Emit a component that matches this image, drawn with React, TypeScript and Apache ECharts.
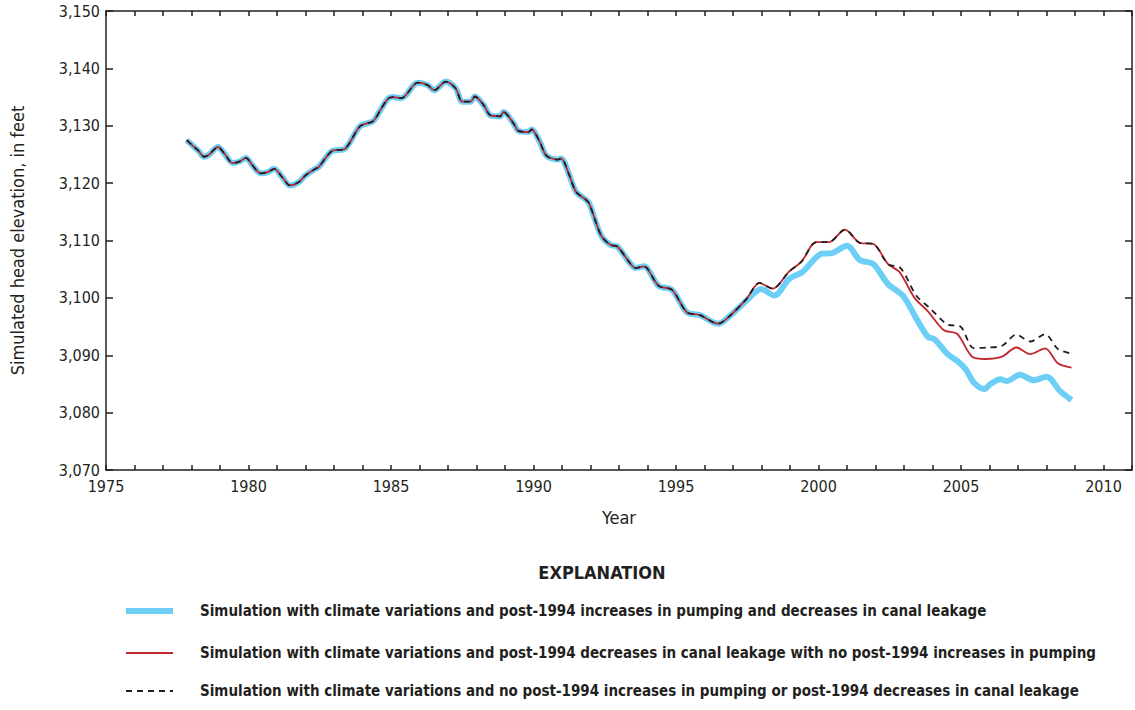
import React, { useEffect, useRef } from "react";
import * as echarts from "echarts";

const commonYears = [1977.83, 1978.05, 1978.23, 1978.44, 1978.6, 1978.93, 1979.16, 1979.45, 1979.7, 1979.91, 1980.14, 1980.43, 1980.67, 1980.9, 1981.19, 1981.45, 1981.77, 1982.0, 1982.35, 1982.46, 1982.93, 1983.39, 1983.91, 1984.37, 1984.6, 1984.89, 1985.07, 1985.36, 1985.94, 1986.28, 1986.52, 1986.92, 1987.27, 1987.5, 1987.79, 1987.94, 1988.25, 1988.49, 1988.83, 1988.95, 1989.3, 1989.47, 1989.82, 1989.93, 1990.22, 1990.45, 1990.86, 1990.97, 1991.26, 1991.49, 1991.84, 1991.96, 1992.37, 1992.71, 1992.94, 1993.41, 1993.58, 1993.87, 1994.39, 1994.86, 1995.38, 1995.84, 1996.48, 1996.83];
const commonHeads = [3127.5, 3126.5, 3125.7, 3124.6, 3124.9, 3126.3, 3125.1, 3123.5, 3123.8, 3124.4, 3123.1, 3121.7, 3121.9, 3122.5, 3121.0, 3119.6, 3120.2, 3121.35, 3122.5, 3122.8, 3125.6, 3126.0, 3129.9, 3130.8, 3132.5, 3134.7, 3135.0, 3134.8, 3137.5, 3137.1, 3136.2, 3137.7, 3136.5, 3134.2, 3134.2, 3135.1, 3133.6, 3131.8, 3131.65, 3132.4, 3130.4, 3129.1, 3128.9, 3129.35, 3127.2, 3124.8, 3124.1, 3124.3, 3121.35, 3118.5, 3117.1, 3116.4, 3110.9, 3109.2, 3108.95, 3105.9, 3105.2, 3105.5, 3102.1, 3101.4, 3097.5, 3097.0, 3095.5, 3096.6];

// After 1997: no post-1994 pumping increases (red and black shared until 2002.5)
const sharedYears = [1997.47, 1997.93, 1998.39, 1998.97, 1999.4, 1999.92, 2000.36, 2000.93, 2001.45, 2001.92, 2002.44];
const sharedHeads = [3099.8, 3102.6, 3101.6, 3104.6, 3106.3, 3109.7, 3109.7, 3111.9, 3109.6, 3109.4, 3105.9];

const noChangeYears = [2002.88, 2003.43, 2003.9, 2004.51, 2004.98, 2005.45, 2005.91, 2006.44, 2006.94, 2007.43, 2007.95, 2008.41, 2008.88];
const noChangeHeads = [3105.2, 3100.4, 3098.25, 3095.4, 3095.0, 3091.25, 3091.35, 3091.65, 3093.6, 3092.4, 3093.65, 3091.05, 3090.3];

const leakageYears = [2002.85, 2003.37, 2003.84, 2004.39, 2004.87, 2005.39, 2005.86, 2006.44, 2006.94, 2007.43, 2007.95, 2008.41, 2008.88];
const leakageHeads = [3104.45, 3100.0, 3097.65, 3094.4, 3093.7, 3089.75, 3089.35, 3089.75, 3091.35, 3090.2, 3091.2, 3088.55, 3087.85];

const pumpingYears = [1997.47, 1997.99, 1998.45, 1998.97, 1999.43, 2000.12, 2000.47, 2001.0, 2001.45, 2001.92, 2002.44, 2002.96, 2003.48, 2003.84, 2004.07, 2004.53, 2004.87, 2005.16, 2005.45, 2005.82, 2006.03, 2006.38, 2006.61, 2007.07, 2007.54, 2008.01, 2008.47, 2008.88];
const pumpingHeads = [3099.5, 3101.55, 3100.4, 3103.3, 3104.5, 3107.7, 3107.8, 3109.1, 3106.6, 3105.9, 3102.4, 3100.4, 3096.0, 3093.2, 3092.8, 3090.2, 3089.0, 3087.6, 3085.25, 3084.1, 3084.95, 3085.8, 3085.5, 3086.6, 3085.65, 3086.25, 3083.8, 3082.2];

const legendLabels = [
  "Simulation with climate variations and post-1994 increases in pumping and decreases in canal leakage",
  "Simulation with climate variations and post-1994 decreases in canal leakage with no post-1994 increases in pumping",
  "Simulation with climate variations and no post-1994 increases in pumping or post-1994 decreases in canal leakage",
];

const FONT = "'Liberation Sans Narrow', 'DejaVu Sans Condensed', 'Roboto', sans-serif";
const INK = "#231f20";
const BLUE = "#6dcff6";
const RED = "#c1272d";

function pairs(xs: number[], ys: number[]) {
  return xs.map((x, i) => [x, ys[i]]);
}

export default function App() {
  const ref = useRef<HTMLDivElement>(null);
  useEffect(() => {
    if (!ref.current) return;
    const chart = echarts.init(ref.current, null, { renderer: "svg" });
    const common = pairs(commonYears, commonHeads);
    const shared = pairs(sharedYears, sharedHeads);
    const pumping = common.concat(pairs(pumpingYears, pumpingHeads));
    const leakage = common.concat(shared, pairs(leakageYears, leakageHeads));
    const noChange = common.concat(shared, pairs(noChangeYears, noChangeHeads));

    const fmtThousands = (v: number) => {
      const s = String(Math.round(v));
      return s.length > 3 ? s.slice(0, s.length - 3) + "," + s.slice(-3) : s;
    };

    const axisLine = { show: true, lineStyle: { color: INK, width: 1.5 } };
    const legendY = [611, 653, 691];
    const graphic: any[] = [
      {
        type: "text",
        x: 602,
        y: 572,
        style: { text: "EXPLANATION", font: `bold 18px ${FONT}`, fill: INK, align: "center", verticalAlign: "middle" },
      },
    ];
    const legendStyles = [
      { stroke: BLUE, lineWidth: 6 },
      { stroke: RED, lineWidth: 1.8 },
      { stroke: INK, lineWidth: 1.8, lineDash: [6, 5] },
    ];
    legendLabels.forEach((label, i) => {
      graphic.push({
        type: "line",
        shape: { x1: 126, y1: legendY[i], x2: 173, y2: legendY[i] },
        style: legendStyles[i],
      });
      graphic.push({
        type: "text",
        x: 200,
        y: legendY[i],
        style: { text: label, font: `bold 15px ${FONT}`, fill: INK, verticalAlign: "middle" },
      });
    });

    chart.setOption({
      animation: false,
      backgroundColor: "#ffffff",
      grid: { left: 97, top: 11, width: 1035, height: 459, containLabel: false },
      xAxis: [
        {
          type: "value",
          min: 1975,
          max: 2011,
          interval: 1,
          position: "bottom",
          name: "Year",
          nameLocation: "middle",
          nameGap: 38,
          nameTextStyle: { color: INK, fontFamily: FONT, fontSize: 18 },
          axisLine,
          axisTick: { show: true, inside: true, length: 5, lineStyle: { color: INK, width: 1.5 } },
          axisLabel: {
            color: INK,
            fontFamily: FONT,
            fontSize: 16,
            margin: 8,
            formatter: (v: number) => (Math.round(v) % 5 === 0 && v <= 2010 ? String(Math.round(v)) : ""),
          },
          splitLine: { show: false },
        },
        {
          type: "value",
          min: 1975,
          max: 2011,
          interval: 1,
          position: "top",
          axisLine,
          axisTick: { show: true, inside: true, length: 5, lineStyle: { color: INK, width: 1.5 } },
          axisLabel: { show: false },
          splitLine: { show: false },
        },
      ],
      yAxis: [
        {
          type: "value",
          min: 3070,
          max: 3150,
          interval: 10,
          position: "left",
          name: "Simulated head elevation, in feet",
          nameLocation: "middle",
          nameGap: 80,
          nameRotate: 90,
          nameTextStyle: { color: INK, fontFamily: FONT, fontSize: 18 },
          axisLine,
          axisTick: { show: true, inside: true, length: 7, lineStyle: { color: INK, width: 1.5 } },
          axisLabel: { color: INK, fontFamily: FONT, fontSize: 16, margin: 6, formatter: fmtThousands },
          splitLine: { show: false },
        },
        {
          type: "value",
          min: 3070,
          max: 3150,
          interval: 10,
          position: "right",
          axisLine,
          axisTick: { show: true, inside: true, length: 7, lineStyle: { color: INK, width: 1.5 } },
          axisLabel: { show: false },
          splitLine: { show: false },
        },
      ],
      series: [
        {
          type: "line",
          name: legendLabels[0],
          data: pumping,
          showSymbol: false,
          smooth: 0.3,
          lineStyle: { color: BLUE, width: 6 },
          z: 2,
        },
        {
          type: "line",
          name: legendLabels[1],
          data: leakage,
          showSymbol: false,
          smooth: 0.3,
          lineStyle: { color: RED, width: 1.8 },
          z: 3,
        },
        {
          type: "line",
          name: legendLabels[2],
          data: noChange,
          showSymbol: false,
          smooth: 0.3,
          lineStyle: { color: INK, width: 1.8, type: [6, 5] },
          z: 4,
        },
      ],
      graphic,
    });
    return () => chart.dispose();
  }, []);
  return (
    <div
      ref={ref}
      style={{ position: "fixed", left: 0, top: 0, width: 1135, height: 710, background: "#fff" }}
    />
  );
}
